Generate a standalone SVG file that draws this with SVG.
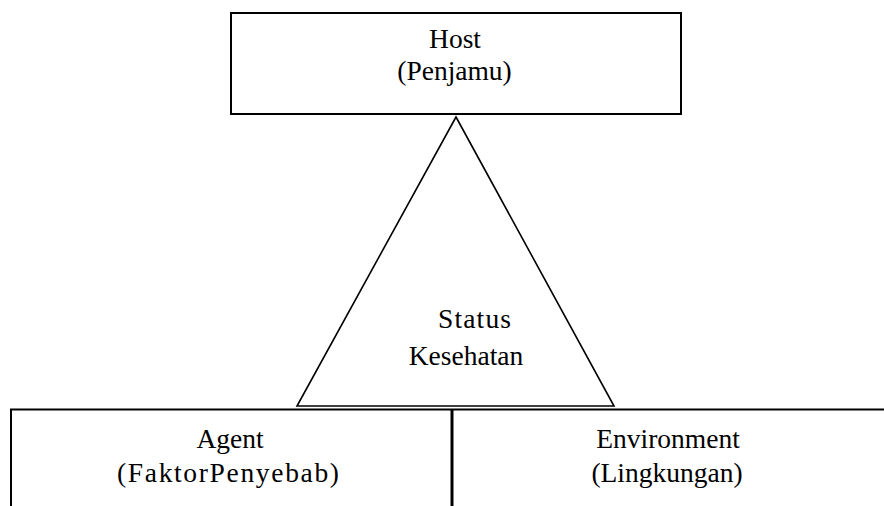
<svg xmlns="http://www.w3.org/2000/svg" width="884" height="506" viewBox="0 0 884 506">
<style>
.box{fill:none;stroke:#000;stroke-width:2}
.ln{fill:none;stroke:#000;stroke-width:2}
.tri{fill:none;stroke:#000;stroke-width:1.6}
text{font-family:"Liberation Serif","Times New Roman",serif;font-size:27.5px;fill:#000;text-anchor:middle}
</style>
<rect width="884" height="506" fill="#fff"/>
<g id="host">
<rect class="box" x="231" y="13" width="450" height="101"/>
<text x="455" y="48">Host</text>
<text x="454.5" y="80">(Penjamu)</text>
</g>
<g id="status">
<polygon class="tri" points="456,117 614,406 297,406"/>
<text x="474.5" y="328" textLength="73" lengthAdjust="spacing">Status</text>
<text x="466" y="365">Kesehatan</text>
</g>
<g id="connectors">
<line class="ln" x1="10" y1="409.5" x2="884" y2="409.5"/>
<line class="ln" x1="11" y1="409" x2="11" y2="506"/>
<line x1="452" y1="409" x2="452" y2="506" stroke="#000" stroke-width="3"/>
</g>
<g id="agent">
<text x="230" y="447.5">Agent</text>
<text x="228" y="481.5" textLength="222" lengthAdjust="spacing">(FaktorPenyebab)</text>
</g>
<g id="environment">
<text x="668" y="447.5">Environment</text>
<text x="667" y="481.5">(Lingkungan)</text>
</g>
</svg>
